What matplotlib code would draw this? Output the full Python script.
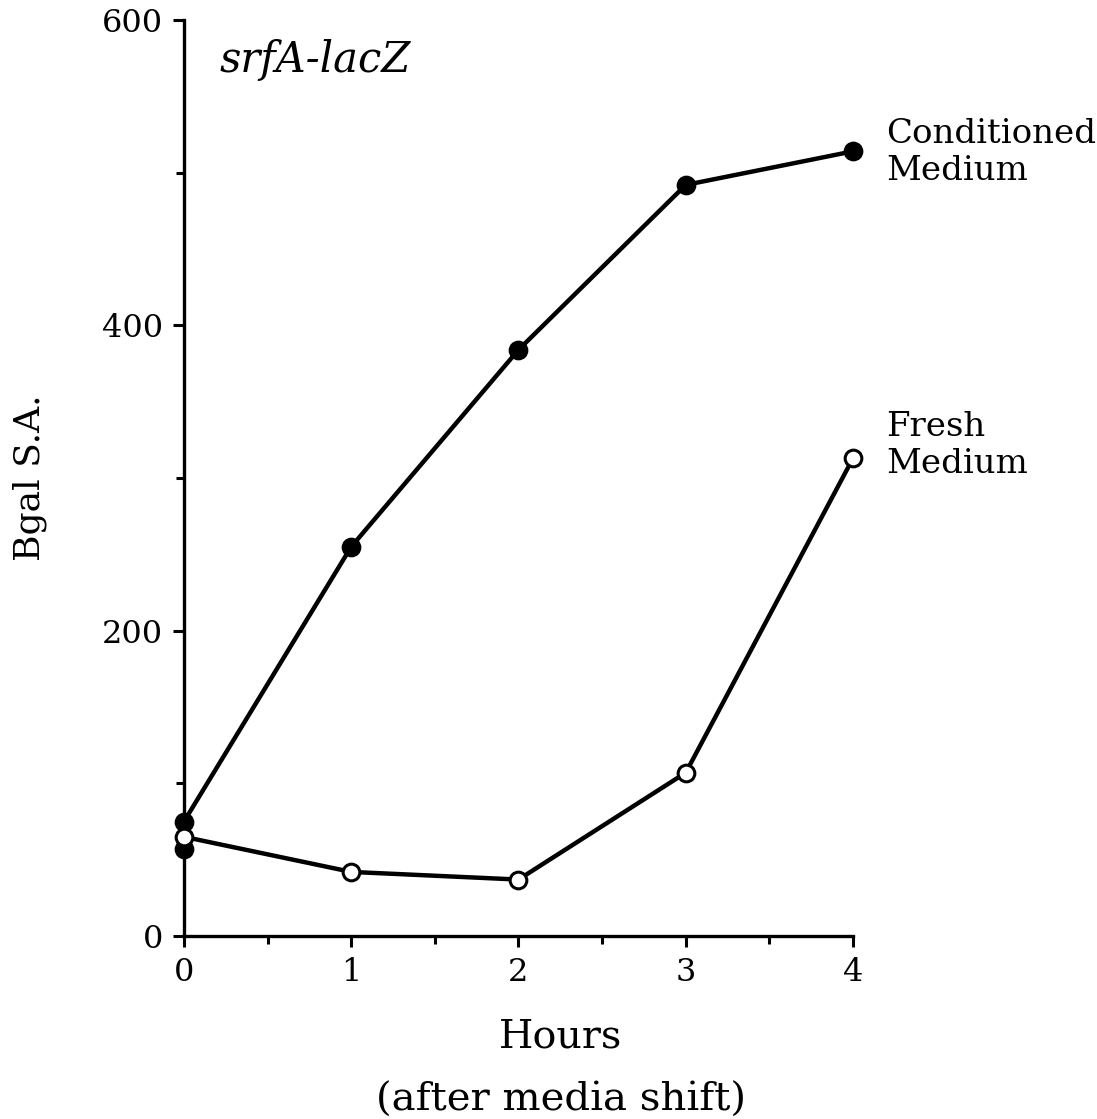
import matplotlib
matplotlib.use("Agg")
import matplotlib.pyplot as plt

# srfA-lacZ expression after media shift
hours = [0, 1, 2, 3, 4]
conditioned = [75, 255, 384, 492, 514]
fresh = [65, 42, 37, 107, 313]
# second conditioned reading at t=0
extra_t = [0]
extra_cond = [57]

plt.rcParams['font.family'] = ['DejaVu Serif']

fig = plt.figure(figsize=(10.97, 11.19), dpi=100)
ax = fig.add_axes([0.1677, 0.1635, 0.6099, 0.8186])

line_kw = dict(color='black', lw=3.2, markersize=12, markeredgewidth=2.2, clip_on=False, zorder=3)
ax.plot(hours, conditioned, marker='o', markerfacecolor='black', **line_kw)
ax.plot(extra_t, extra_cond, marker='o', markerfacecolor='black', linestyle='none', **line_kw)
ax.plot(hours, fresh, marker='o', markerfacecolor='white', **line_kw)

ax.set_xlim(0, 4)
ax.set_ylim(0, 600)
ax.set_xticks([0, 1, 2, 3, 4])
ax.set_xticks([0.5, 1.5, 2.5, 3.5], minor=True)
ax.set_yticks([0, 200, 400, 600])
ax.set_yticks([100, 300, 500], minor=True)

for s in ['top', 'right']:
    ax.spines[s].set_visible(False)
for s in ['left', 'bottom']:
    ax.spines[s].set_linewidth(2.4)

ax.tick_params(which='major', direction='out', length=8, width=2.2, labelsize=23, pad=7)
ax.tick_params(which='minor', direction='out', length=6, width=2.2)

# axis titles
fig.text(0.511, 0.064, 'Hours', fontsize=28.5, ha='center', va='baseline')
fig.text(0.511, 0.007, '(after media shift)', fontsize=29, ha='center', va='baseline')
fig.text(0.027, 0.573, 'Bgal S.A.', fontsize=26, rotation=90, ha='center', va='center')

ax.text(0.215, 574, 'srfA-lacZ', fontsize=30, style='italic', ha='left', va='center')
ax.text(4.2, 513, 'Conditioned\nMedium', fontsize=24.5, ha='left', va='center', linespacing=1.2,
        clip_on=False)
ax.text(4.2, 321, 'Fresh\nMedium', fontsize=24.5, ha='left', va='center', linespacing=1.2,
        clip_on=False)

fig.savefig('out.png', dpi=100)
